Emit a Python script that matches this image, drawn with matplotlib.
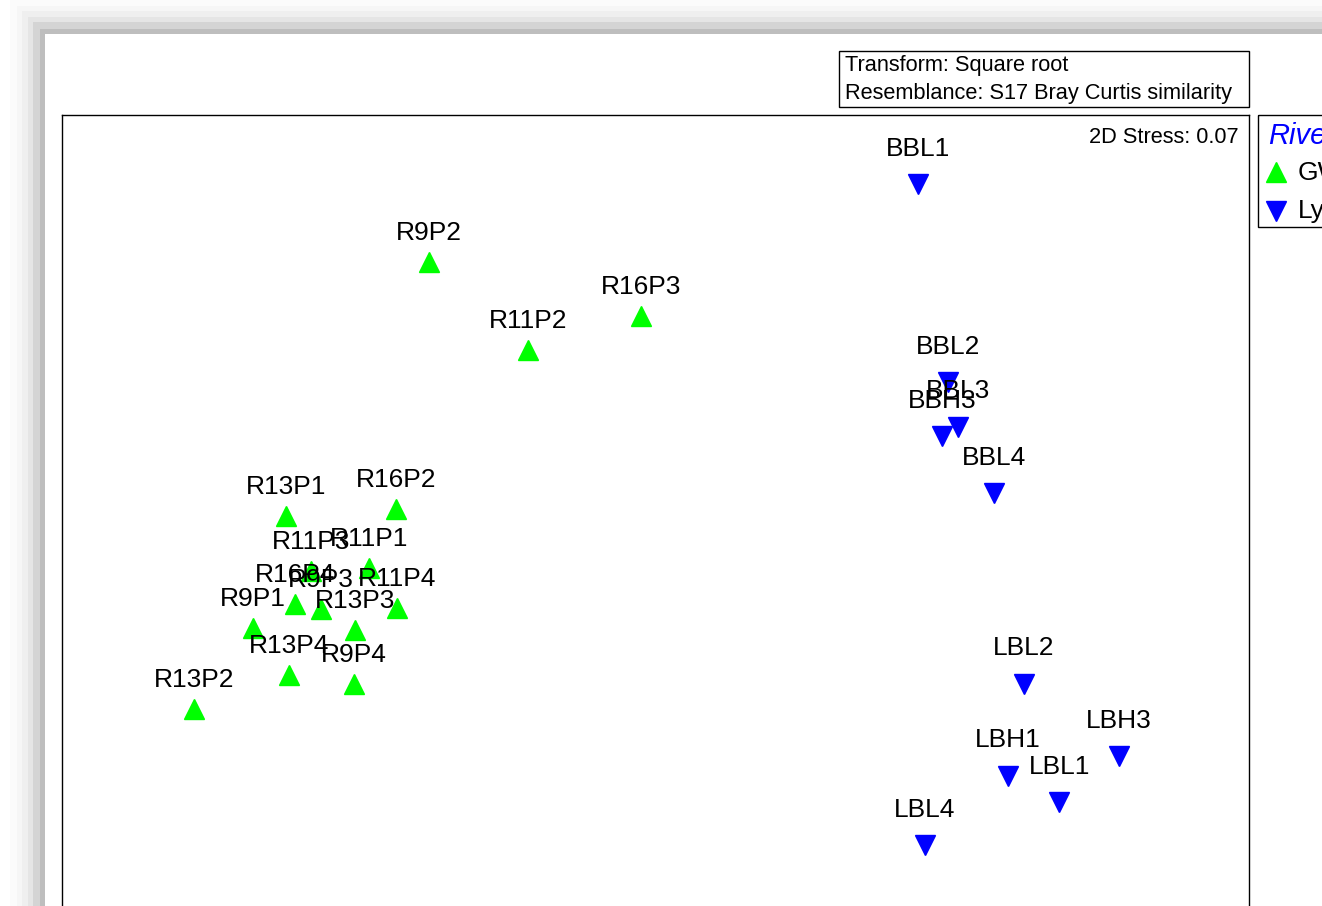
import matplotlib.pyplot as plt
from matplotlib.patches import Rectangle

plt.rcParams['font.family'] = ['Liberation Sans', 'DejaVu Sans']

# nMDS coordinates
gw_names = ['R9P2', 'R16P3', 'R11P2', 'R13P1', 'R16P2', 'R11P1', 'R11P3', 'R16P4',
            'R9P3', 'R11P4', 'R13P3', 'R9P1', 'R13P4', 'R9P4', 'R13P2']
gw_x = [-0.763, -0.049, -0.430, -1.245, -0.874, -0.965, -1.161, -1.215,
        -1.127, -0.871, -1.013, -1.356, -1.235, -1.016, -1.555]
gw_y = [0.905, 0.723, 0.608, 0.049, 0.072, -0.127, -0.137, -0.248,
        -0.265, -0.261, -0.335, -0.329, -0.487, -0.517, -0.602]

ly_names = ['BBL1', 'BBL2', 'BBL3', 'BBH3', 'BBL4', 'LBL2', 'LBH3', 'LBH1', 'LBL1', 'LBL4']
ly_x = [0.885, 0.986, 1.019, 0.965, 1.141, 1.242, 1.562, 1.188, 1.360, 0.908]
ly_y = [1.167, 0.500, 0.349, 0.318, 0.126, -0.517, -0.760, -0.827, -0.915, -1.060]

legend_title = 'River'
legend_labels = ['GWR', 'Lyons']

W, H = 1322, 906
fig = plt.figure(figsize=(W / 100, H / 100), dpi=100)

# background overlay in pixel coords (shadow, boxes, legend)
bg = fig.add_axes([0, 0, 1, 1])
bg.set_xlim(0, W)
bg.set_ylim(H, 0)
bg.axis('off')

# page shadow, outer to inner
shades = [(10, '#fbfbfb'), (17, '#f6f6f6'), (22, '#efefef'), (28, '#e5e5e5'),
          (33, '#d4d4d4'), (40, '#bebebe')]
for i, (off, col) in enumerate(shades):
    nxt = shades[i + 1][0] if i + 1 < len(shades) else 45
    top_off = off - 11 if off > 11 else 0
    top_nxt = nxt - 11
    bg.add_patch(Rectangle((off, top_off), nxt - off, H, color=col, lw=0))
    bg.add_patch(Rectangle((off, top_off), W, top_nxt - top_off, color=col, lw=0))
bg.add_patch(Rectangle((45, 34), W, H, color='white', lw=0))

# transform / resemblance box
bg.add_patch(Rectangle((839, 51), 410, 56, fill=False, ec='black', lw=1))
bg.text(845, 65, 'Transform: Square root', fontsize=15.7, va='center', ha='left')
bg.text(845, 93, 'Resemblance: S17 Bray Curtis similarity', fontsize=15.7, va='center', ha='left')

# legend (cut off at the right edge)
bg.add_patch(Rectangle((1258, 115), 200, 112, fill=False, ec='black', lw=1))
bg.text(1268, 136, legend_title, fontsize=21, style='italic', color='#0000ff', va='center')
bg.plot([1276], [172], marker='^', ms=15, color='#00ff00', ls='none')
bg.plot([1276], [211], marker='v', ms=15, color='#0000ff', ls='none')
bg.text(1298, 173, legend_labels[0], fontsize=19, va='center')
bg.text(1298, 211, legend_labels[1], fontsize=19, va='center')

# main plot axes, extends below the visible area
ax = fig.add_axes([62 / W, 1 - 940 / H, (1249 - 62) / W, (940 - 115) / H])
ax.set_xlim(-2, 2)
ax.set_ylim(1.4 - 825 / 296.75, 1.4)
ax.set_xticks([])
ax.set_yticks([])
for s in ax.spines.values():
    s.set_linewidth(1)
ax.patch.set_alpha(0)

ax.plot(gw_x, gw_y, marker='^', ms=15, color='#00ff00', ls='none')
ax.plot(ly_x, ly_y, marker='v', ms=15, color='#0000ff', ls='none')

for n, x, y in zip(gw_names, gw_x, gw_y):
    ax.annotate(n, (x, y), xytext=(0, 21), textcoords='offset points',
                ha='center', va='center', fontsize=19)
for n, x, y in zip(ly_names, ly_x, ly_y):
    ax.annotate(n, (x, y), xytext=(0, 25.5), textcoords='offset points',
                ha='center', va='center', fontsize=19)

ax.text(0.9915, 0.985, '2D Stress: 0.07', transform=ax.transAxes,
        ha='right', va='top', fontsize=15.7)

fig.savefig('out.png', dpi=100)
